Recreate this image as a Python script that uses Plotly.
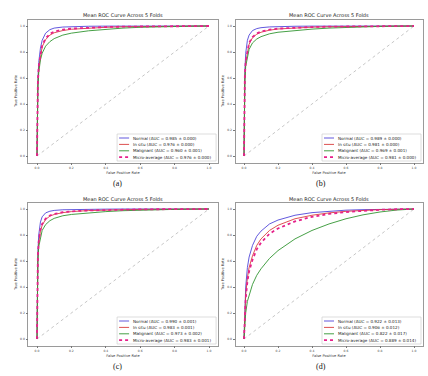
import plotly.graph_objects as go

# ---------------- data ----------------
FPR = [0, 0.002, 0.005, 0.01, 0.02, 0.03, 0.05, 0.075, 0.1, 0.15, 0.2, 0.3, 0.4, 0.5, 0.6, 0.7, 0.8, 0.9, 1.0]

CLASSES = ["Normal", "In situ", "Malignant", "Micro-average"]
PANEL_LABELS = ["(a)", "(b)", "(c)", "(d)"]
TITLE = "Mean ROC Curve Across 5 Folds"

A_normal = [0, 0.35, 0.58, 0.72, 0.83, 0.89, 0.945, 0.972, 0.984, 0.992, 0.995, 0.998, 0.999, 1, 1, 1, 1, 1, 1]
A_insitu = [0, 0.32, 0.55, 0.68, 0.78, 0.84, 0.895, 0.93, 0.948, 0.965, 0.975, 0.985, 0.99, 0.994, 0.996, 0.998, 0.999, 1, 1]
A_malig = [0, 0.30, 0.52, 0.64, 0.74, 0.79, 0.845, 0.88, 0.903, 0.93, 0.945, 0.963, 0.975, 0.984, 0.99, 0.994, 0.997, 0.999, 1]
A_micro = [0, 0.33, 0.56, 0.69, 0.79, 0.85, 0.905, 0.94, 0.957, 0.972, 0.98, 0.988, 0.992, 0.995, 0.997, 0.998, 0.999, 1, 1]

B_normal = [0, 0.40, 0.65, 0.79, 0.89, 0.93, 0.965, 0.98, 0.987, 0.993, 0.996, 0.998, 0.999, 1, 1, 1, 1, 1, 1]
B_insitu = [0, 0.37, 0.60, 0.72, 0.81, 0.86, 0.91, 0.937, 0.952, 0.968, 0.977, 0.986, 0.991, 0.994, 0.996, 0.998, 0.999, 1, 1]
B_malig = [0, 0.35, 0.57, 0.69, 0.77, 0.82, 0.87, 0.90, 0.918, 0.94, 0.952, 0.966, 0.976, 0.984, 0.99, 0.994, 0.997, 0.999, 1]
B_micro = [0, 0.38, 0.61, 0.73, 0.82, 0.87, 0.915, 0.942, 0.957, 0.972, 0.98, 0.988, 0.992, 0.995, 0.997, 0.998, 0.999, 1, 1]

C_normal = [0, 0.42, 0.67, 0.80, 0.90, 0.94, 0.97, 0.983, 0.989, 0.994, 0.996, 0.998, 0.999, 1, 1, 1, 1, 1, 1]
C_insitu = [0, 0.38, 0.62, 0.74, 0.83, 0.875, 0.92, 0.945, 0.958, 0.972, 0.98, 0.988, 0.992, 0.995, 0.997, 0.998, 0.999, 1, 1]
C_malig = [0, 0.36, 0.59, 0.71, 0.79, 0.835, 0.88, 0.91, 0.928, 0.948, 0.958, 0.971, 0.98, 0.987, 0.992, 0.995, 0.997, 0.999, 1]
C_micro = [0, 0.39, 0.63, 0.75, 0.84, 0.885, 0.925, 0.95, 0.962, 0.975, 0.982, 0.989, 0.993, 0.996, 0.997, 0.998, 0.999, 1, 1]

D_normal = [0, 0.12, 0.25, 0.40, 0.55, 0.63, 0.72, 0.79, 0.83, 0.885, 0.915, 0.952, 0.972, 0.984, 0.991, 0.995, 0.998, 0.999, 1]
D_insitu = [0, 0.10, 0.21, 0.34, 0.47, 0.55, 0.64, 0.72, 0.77, 0.835, 0.875, 0.925, 0.952, 0.97, 0.982, 0.99, 0.995, 0.998, 1]
D_malig = [0, 0.06, 0.12, 0.20, 0.29, 0.34, 0.42, 0.49, 0.54, 0.62, 0.68, 0.77, 0.835, 0.885, 0.925, 0.955, 0.977, 0.992, 1]
D_micro = [0, 0.09, 0.19, 0.31, 0.44, 0.52, 0.61, 0.69, 0.74, 0.81, 0.85, 0.905, 0.94, 0.962, 0.977, 0.987, 0.994, 0.998, 1]

AUC_MEAN = [[0.985, 0.976, 0.960, 0.976],
            [0.989, 0.981, 0.969, 0.981],
            [0.990, 0.983, 0.973, 0.983],
            [0.922, 0.906, 0.822, 0.889]]
AUC_STD = [[0.000, 0.000, 0.001, 0.000],
           [0.000, 0.000, 0.001, 0.000],
           [0.001, 0.001, 0.002, 0.001],
           [0.013, 0.012, 0.017, 0.014]]

PANELS = [[A_normal, A_insitu, A_malig, A_micro],
          [B_normal, B_insitu, B_malig, B_micro],
          [C_normal, C_insitu, C_malig, C_micro],
          [D_normal, D_insitu, D_malig, D_micro]]

DIAG = [0, 1]
TICKS = [0, 0.2, 0.4, 0.6, 0.8, 1.0]
TICK_TEXT = ["0.0", "0.2", "0.4", "0.6", "0.8", "1.0"]

# ---------------- style ----------------
W, H = 428, 376
COLORS = ["rgba(70,60,215,0.85)", "rgba(215,50,50,0.85)", "rgba(50,150,50,0.9)", "#e6208a"]
DASHES = ["solid", "solid", "solid", "dot"]
WIDTHS = [1.0, 1.0, 1.0, 1.8]
FONT = "DejaVu Sans"

# axes frames in pixels (left, right, top, bottom)
FRAMES = [(28.4, 217.6, 19.5, 162.5),
          (235.5, 422.5, 19.5, 162.5),
          (28.4, 217.6, 202.5, 345.5),
          (235.5, 422.5, 202.5, 345.5)]
CAPTION_POS = [(117, 183), (321, 183), (117, 366), (321, 366)]


def px(x):
    return x / W


def py(y):
    return 1 - y / H


fig = go.Figure()
shapes = []
annotations = []

for i, (curves, frame) in enumerate(zip(PANELS, FRAMES)):
    n = i + 1
    xa = "x" if n == 1 else f"x{n}"
    ya = "y" if n == 1 else f"y{n}"
    l, r, t, b = frame
    axis_common = dict(range=[-0.05, 1.05], tickvals=TICKS, ticktext=TICK_TEXT,
                       showgrid=False, zeroline=False, showline=True, mirror=True,
                       linecolor="#9a9a9a", linewidth=0.8, ticks="outside", ticklen=2,
                       tickwidth=0.6, tickcolor="#777", tickfont=dict(family=FONT, size=3, color="#444"))
    fig.update_layout(**{
        ("xaxis" if n == 1 else f"xaxis{n}"): dict(domain=[px(l), px(r)], anchor=ya,
                                                   title=dict(text="False Positive Rate", standoff=2,
                                                              font=dict(family=FONT, size=3.6, color="#333")),
                                                   **axis_common),
        ("yaxis" if n == 1 else f"yaxis{n}"): dict(domain=[py(b), py(t)], anchor=xa,
                                                   title=dict(text="True Positive Rate", standoff=2,
                                                              font=dict(family=FONT, size=3.6, color="#333")),
                                                   **axis_common),
    })
    # diagonal chance line
    fig.add_trace(go.Scatter(x=DIAG, y=DIAG, mode="lines", xaxis=xa, yaxis=ya, showlegend=False,
                             line=dict(color="#a0a0a0", width=0.6, dash="dot"), hoverinfo="skip"))
    for k, tpr in enumerate(curves):
        fig.add_trace(go.Scatter(x=FPR, y=tpr, mode="lines", xaxis=xa, yaxis=ya, showlegend=False,
                                 name=CLASSES[k],
                                 line=dict(color=COLORS[k], width=WIDTHS[k], dash=DASHES[k])))
    # title
    annotations.append(dict(text=TITLE, x=px((l + r) / 2), y=py(t - 4), xref="paper", yref="paper",
                            showarrow=False, xanchor="center", yanchor="middle",
                            font=dict(family=FONT, size=5, color="#222")))
    # caption
    cx, cy = CAPTION_POS[i]
    annotations.append(dict(text=PANEL_LABELS[i], x=px(cx), y=py(cy), xref="paper", yref="paper",
                            showarrow=False, xanchor="center", yanchor="middle",
                            font=dict(family="Liberation Serif", size=8, color="#111")))
    # custom legend (lower right)
    bw, bh = 99, 27
    bx1 = r - 1.5
    bx0 = bx1 - bw
    by1 = b - 1.5
    by0 = by1 - bh
    shapes.append(dict(type="rect", xref="paper", yref="paper", x0=px(bx0), x1=px(bx1),
                       y0=py(by1), y1=py(by0), line=dict(color="#cfcfcf", width=0.7),
                       fillcolor="rgba(255,255,255,0.85)", layer="above"))
    for k in range(4):
        iy = by0 + 4 + k * 6.4
        shapes.append(dict(type="line", xref="paper", yref="paper", x0=px(bx0 + 2), x1=px(bx0 + 12),
                           y0=py(iy), y1=py(iy),
                           line=dict(color=COLORS[k], width=WIDTHS[k], dash=DASHES[k]), layer="above"))
        label = f"{CLASSES[k]} (AUC = {AUC_MEAN[i][k]:.3f} ± {AUC_STD[i][k]:.3f})"
        annotations.append(dict(text=label, x=px(bx0 + 14), y=py(iy), xref="paper", yref="paper",
                                showarrow=False, xanchor="left", yanchor="middle",
                                font=dict(family=FONT, size=4.1, color="#222")))

fig.update_layout(width=W, height=H, margin=dict(l=0, r=0, t=0, b=0),
                  paper_bgcolor="white", plot_bgcolor="white", showlegend=False,
                  shapes=shapes, annotations=annotations)

fig.write_html("out.html", config={"displayModeBar": False},
               post_script="document.body.style.margin='0';document.body.style.padding='0';")
